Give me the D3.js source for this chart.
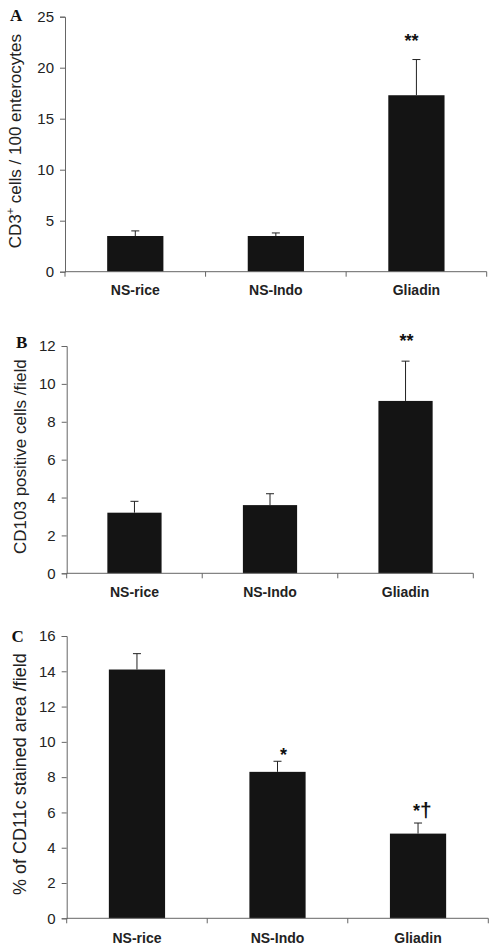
<!DOCTYPE html>
<html><head><meta charset="utf-8">
<script src="https://cdn.jsdelivr.net/npm/d3@7"></script>
<style>body{margin:0;background:#fff}svg{display:block}</style>
</head><body>
<svg id="chart" width="495" height="949"></svg>
<script>
const categories = ["NS-rice", "NS-Indo", "Gliadin"];
// Panel A: CD3+ cells / 100 enterocytes
const cd3Values = [3.5, 3.5, 17.3];
const cd3Upper  = [4.0, 3.8, 20.8];
const cd3Ticks  = [0, 5, 10, 15, 20, 25];
// Panel B: CD103 positive cells / field
const cd103Values = [3.2, 3.6, 9.1];
const cd103Upper  = [3.8, 4.2, 11.2];
const cd103Ticks  = [0, 2, 4, 6, 8, 10, 12];
// Panel C: % CD11c stained area / field
const cd11cValues = [14.1, 8.3, 4.8];
const cd11cUpper  = [15.0, 8.9, 5.4];
const cd11cTicks  = [0, 2, 4, 6, 8, 10, 12, 14, 16];
// significance marks
const cd3Marks   = ["", "", "**"];
const cd103Marks = ["", "", "**"];
const cd11cMarks = ["", "*", "*†"];

const svg = d3.select("#chart");
const AXIS = "#666", BAR = "#141414";
const SANS = "'Liberation Sans', Arial, sans-serif";

const panels = [
  {letter:"A", values:cd3Values, upper:cd3Upper, ticks:cd3Ticks, marks:cd3Marks,
   x0:65, x1:486.7, yTop:16.7, yBot:271.7, catY:295, letterPos:[10,21],
   label:["CD3","+"," cells / 100 enterocytes"], labelX:21, labelSize:17,
   markOff:[[0,0],[0,0],[-5,-13]]},
  {letter:"B", values:cd103Values, upper:cd103Upper, ticks:cd103Ticks, marks:cd103Marks,
   x0:66.7, x1:473.3, yTop:346, yBot:573.3, catY:596.5, letterPos:[16,348],
   label:["CD103 positive cells /field"], labelX:25.5, labelSize:17,
   markOff:[[0,0],[0,0],[1,-14]]},
  {letter:"C", values:cd11cValues, upper:cd11cUpper, ticks:cd11cTicks, marks:cd11cMarks,
   x0:66.7, x1:488.3, yTop:636, yBot:918.3, catY:943, letterPos:[11.5,642],
   label:["% of CD11c stained area /field"], labelX:26, labelSize:18,
   markOff:[[0,0],[6,0],[4,-6]]}
];

panels.forEach(p => {
  const g = svg.append("g");
  const x = d3.scaleBand().domain(categories).range([p.x0, p.x1]).padding(0);
  const y = d3.scaleLinear().domain([0, d3.max(p.ticks)]).range([p.yBot, p.yTop]);
  const bw = x.bandwidth();

  // bars
  g.selectAll("rect.bar").data(categories).join("rect")
    .attr("x", (c) => x(c) + bw * 0.3)
    .attr("width", bw * 0.4)
    .attr("y", (c, i) => y(p.values[i]))
    .attr("height", (c, i) => y(0) - y(p.values[i]))
    .attr("fill", BAR);

  // error bars (upper only)
  categories.forEach((c, i) => {
    const cx = x(c) + bw / 2;
    g.append("line").attr("x1", cx).attr("x2", cx)
      .attr("y1", y(p.values[i])).attr("y2", y(p.upper[i]))
      .attr("stroke", "#222").attr("stroke-width", 1);
    g.append("line").attr("x1", cx - 4).attr("x2", cx + 4)
      .attr("y1", y(p.upper[i])).attr("y2", y(p.upper[i]))
      .attr("stroke", "#222").attr("stroke-width", 1);
  });

  // y axis
  const ya = g.append("g").attr("transform", `translate(${p.x0},0)`)
    .call(d3.axisLeft(y).tickValues(p.ticks).tickSize(5).tickPadding(6).tickFormat(d3.format("d")));
  ya.select(".domain").attr("stroke", AXIS);
  ya.selectAll(".tick line").attr("stroke", AXIS);
  ya.selectAll("text").attr("font-family", SANS).attr("font-size", 15).attr("fill", "#222");

  // x axis line and boundary ticks
  g.append("line").attr("x1", p.x0).attr("x2", p.x1)
    .attr("y1", y(0)).attr("y2", y(0)).attr("stroke", AXIS);
  const bounds = categories.map(c => x(c)).concat([x(categories[categories.length-1]) + bw]);
  bounds.forEach(bx => {
    g.append("line").attr("x1", bx).attr("x2", bx)
      .attr("y1", y(0)).attr("y2", y(0) + 5).attr("stroke", AXIS);
  });
  // category labels
  g.selectAll("text.cat").data(categories).join("text")
    .attr("x", c => x(c) + bw / 2).attr("y", p.catY)
    .attr("text-anchor", "middle").attr("font-family", SANS)
    .attr("font-weight", "bold").attr("font-size", 14).attr("fill", "#222")
    .text(c => c);

  // significance marks
  categories.forEach((c, i) => {
    const m = p.marks[i];
    if (!m) return;
    const t = g.append("text")
      .attr("x", x(c) + bw / 2 + p.markOff[i][0])
      .attr("y", y(p.upper[i]) + p.markOff[i][1])
      .attr("font-family", SANS).attr("font-weight", "bold")
      .attr("font-size", 18).attr("fill", "#111");
    if (m.includes("†")) {
      t.attr("text-anchor", "start").attr("x", x(c) + bw / 2 - 5);
      t.append("tspan").text("*");
      t.append("tspan").attr("font-size", 21).text("†");
    } else {
      t.attr("text-anchor", "middle").text(m);
    }
  });

  // y label
  const cy = (p.yTop + p.yBot) / 2 - 3;
  const lab = g.append("text")
    .attr("transform", `translate(${p.labelX},${cy}) rotate(-90)`)
    .attr("text-anchor", "middle").attr("font-family", SANS)
    .attr("font-size", p.labelSize).attr("fill", "#222");
  if (p.label.length === 3) {
    lab.append("tspan").text(p.label[0]);
    lab.append("tspan").attr("font-size", p.labelSize * 0.65).attr("dy", -7).text(p.label[1]);
    lab.append("tspan").attr("dy", 7).text(p.label[2]);
  } else {
    lab.text(p.label[0]);
  }

  // panel letter
  g.append("text").attr("x", p.letterPos[0]).attr("y", p.letterPos[1])
    .attr("font-family", "'Liberation Serif', 'Times New Roman', serif")
    .attr("font-weight", "bold").attr("font-size", 17).attr("fill", "#111")
    .text(p.letter);
});
</script>
</body></html>
